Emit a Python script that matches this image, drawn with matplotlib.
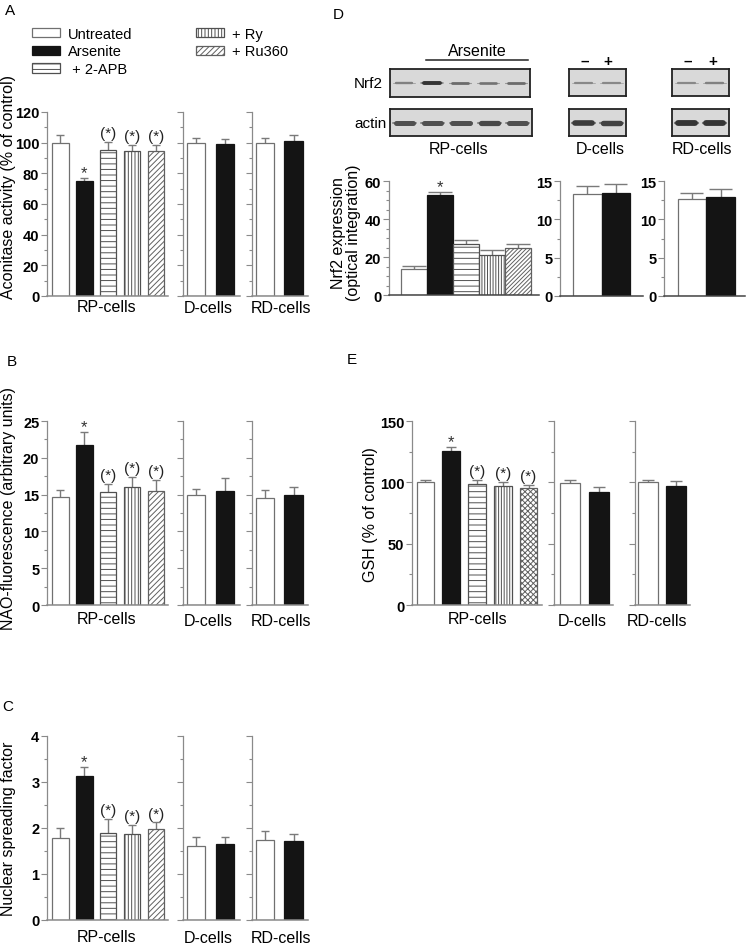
import numpy as np
import matplotlib
matplotlib.use("Agg")
import matplotlib.pyplot as plt
from matplotlib.patches import Patch
from matplotlib.lines import Line2D
from matplotlib.ticker import MultipleLocator

plt.rcParams['font.family'] = ['Liberation Sans', 'DejaVu Sans']
plt.rcParams['hatch.linewidth'] = 0.7

W, H = 750, 945

groups = ['Untreated', 'Arsenite', ' + 2-APB', '+ Ry', '+ Ru360']
cells = ['RP-cells', 'D-cells', 'RD-cells']

# A - aconitase activity (% of control)
acon_rp = [100, 75, 95.5, 94.5, 94.5]
acon_rp_err = [5, 2, 5, 4, 4]
acon_d = [100, 99]
acon_d_err = [3, 3.5]
acon_rd = [100, 101]
acon_rd_err = [3, 4]

# B - NAO fluorescence
nao_rp = [14.7, 21.7, 15.4, 16.1, 15.5]
nao_rp_err = [0.9, 1.8, 1.05, 1.3, 1.5]
nao_d = [15.0, 15.5]
nao_d_err = [0.7, 1.7]
nao_rd = [14.5, 14.95]
nao_rd_err = [1.1, 1.15]

# C - nuclear spreading factor
nsf_rp = [1.78, 3.13, 1.9, 1.87, 1.97]
nsf_rp_err = [0.22, 0.19, 0.3, 0.19, 0.15]
nsf_d = [1.61, 1.65]
nsf_d_err = [0.2, 0.16]
nsf_rd = [1.75, 1.72]
nsf_rd_err = [0.19, 0.15]

# D - Nrf2 expression
nrf_rp = [13.6, 52.5, 27.1, 21.2, 25.0]
nrf_rp_err = [1.5, 1.9, 1.9, 2.3, 1.6]
nrf_d = [13.3, 13.5]
nrf_d_err = [1.0, 1.15]
nrf_rd = [12.7, 12.9]
nrf_rd_err = [0.8, 1.0]

# E - GSH (% of control)
gsh_rp = [100, 125.4, 98.6, 96.7, 95.3]
gsh_rp_err = [2, 3.3, 3.4, 3.3, 2.7]
gsh_d = [99.5, 92]
gsh_d_err = [2, 4.5]
gsh_rd = [100, 97]
gsh_rd_err = [2, 4]

marks_full = ['', '*', '(*)', '(*)', '(*)']
marks_nrf = ['', '*', '', '', '']

# western blot band strength (0..1)
blot_nrf2_rp = [0.35, 0.9, 0.5, 0.45, 0.5]
blot_actin_rp = [0.7, 0.7, 0.7, 0.75, 0.7]
blot_nrf2_d = [0.3, 0.3]
blot_actin_d = [0.85, 0.8]
blot_nrf2_rd = [0.3, 0.35]
blot_actin_rd = [0.9, 0.9]

GRAY = '#8a8a8a'
ERR = '#7a7a7a'
FACES = ['white', '#141414', 'white', 'white', 'white']
EDGES = ['#707070', '#141414', '#505050', '#505050', '#606060']
HATCH = [None, None, '---', '|||||', '//////']
HATCH_D = [None, None, '---', '||||||', '////////']
HATCH_E = [None, None, '---', '||||||', 'xxxxxx']

fig = plt.figure(figsize=(W / 100, H / 100), dpi=100)


def px_axes(x0, y0, x1, y1):
    return fig.add_axes([x0 / W, 1 - y1 / H, (x1 - x0) / W, (y1 - y0) / H])


def ftext(x, y, s, **kw):
    kw.setdefault('ha', 'center')
    kw.setdefault('va', 'center')
    return fig.text(x / W, 1 - y / H, s, **kw)


def style_axes(ax, ymax, major, minor, xlim, labels=True, bottom_col=GRAY):
    ax.set_ylim(0, ymax)
    ax.set_xlim(*xlim)
    ax.yaxis.set_major_locator(MultipleLocator(major))
    ax.yaxis.set_minor_locator(MultipleLocator(minor))
    ax.set_xticks([])
    ax.spines['top'].set_visible(False)
    ax.spines['right'].set_visible(False)
    ax.spines['left'].set_color(GRAY)
    ax.spines['bottom'].set_color(bottom_col)
    ax.spines['left'].set_linewidth(0.9)
    ax.spines['bottom'].set_linewidth(1.1)
    ax.tick_params(axis='y', which='major', length=4, width=0.8, color=GRAY,
                   labelsize=10.5, pad=1.5, labelleft=labels)
    ax.tick_params(axis='y', which='minor', length=2.5, width=0.8, color=GRAY)
    for t in ax.get_yticklabels():
        t.set_fontweight('bold')
    ax.patch.set_alpha(0)


def draw_bars(ax, vals, errs, width, cap, marks=None, hatches=HATCH):
    x = np.arange(len(vals))
    vals = np.asarray(vals, dtype=float)
    top = vals + np.asarray(errs, dtype=float)
    ax.vlines(x, vals, top, color=ERR, lw=1.0, zorder=1)
    ax.hlines(top, x - cap, x + cap, color=ERR, lw=1.0, zorder=1)
    for i, v in zip(x, vals):
        ax.bar(i, v, width, color=FACES[i], edgecolor=EDGES[i], hatch=hatches[i],
               lw=0.9, zorder=2)
    if marks:
        for i, t, m in zip(x, top, marks):
            if m == '*':
                ax.annotate(m, (i, t), xytext=(0, 0.5), textcoords='offset points',
                            ha='center', va='baseline', fontsize=12, color='#333')
            elif m:
                ax.annotate(m, (i, t), xytext=(0, 3.5), textcoords='offset points',
                            ha='center', va='baseline', fontsize=11, color='#222')


def draw_blot(x0, y0, x1, y1, bands, thick):
    ax = px_axes(x0, y0, x1, y1)
    ax.set_xlim(0, len(bands))
    ax.set_ylim(0, 1)
    ax.set_facecolor('#d9d9d9')
    ax.set_xticks([])
    ax.set_yticks([])
    for s in ax.spines.values():
        s.set_linewidth(1.3)
        s.set_color('#222')
    for i, b in enumerate(bands):
        g = 0.7 - 0.55 * b
        ax.plot([i + 0.1, i + 0.9], [0.5, 0.5], color=str(g), lw=thick * 0.4 * (0.5 + b),
                alpha=0.6, solid_capstyle='round')
        ax.plot([i + 0.2, i + 0.8], [0.5, 0.5], color=str(g), lw=thick * (0.5 + b),
                solid_capstyle='round')
    return ax


# ---------- left column: A, B, C ----------
rows = [
    (113, 297, acon_rp, acon_rp_err, acon_d, acon_d_err, acon_rd, acon_rd_err,
     120, 20, 10, 'Aconitase activity (% of control)', 187, 308),
    (422, 606, nao_rp, nao_rp_err, nao_d, nao_d_err, nao_rd, nao_rd_err,
     25, 5, 2.5, 'NAO-fluorescence (arbitrary units)', 509, 620),
    (737, 921, nsf_rp, nsf_rp_err, nsf_d, nsf_d_err, nsf_rd, nsf_rd_err,
     4, 1, 0.5, 'Nuclear spreading factor', 829, 938),
]
for (yt, yb, rp, rpe, dd, dde, rd, rde, ymax, maj, mnr, ylab, ylab_y, lab_y) in rows:
    ax = px_axes(47, yt, 168, yb)
    draw_bars(ax, rp, rpe, 0.7, 0.17, marks_full)
    style_axes(ax, ymax, maj, mnr, (-0.55, 4.5))
    ax = px_axes(183, yt, 240, yb)
    draw_bars(ax, dd, dde, 0.64, 0.15)
    style_axes(ax, ymax, maj, mnr, (-0.45, 1.52), labels=False)
    ax = px_axes(252, yt, 308, yb)
    draw_bars(ax, rd, rde, 0.64, 0.15)
    style_axes(ax, ymax, maj, mnr, (-0.45, 1.5), labels=False)
    ftext(9, ylab_y, ylab, rotation=90, fontsize=11.5)
    ftext(107, lab_y, cells[0], fontsize=11.5)
    ftext(208, lab_y + 1, cells[1], fontsize=11.5)
    ftext(281, lab_y + 1, cells[2], fontsize=11.5)

ftext(10, 11, 'A', fontsize=11)
ftext(12, 362, 'B', fontsize=11)
ftext(8, 707, 'C', fontsize=11)

handles = [Patch(facecolor=FACES[i], edgecolor=EDGES[i], hatch=HATCH[i], lw=0.9)
           for i in range(len(groups))]
fig.legend(handles, groups, ncol=2, loc='upper left', bbox_to_anchor=(26 / W, 1 - 22 / H),
           frameon=False, fontsize=10.5, handlelength=1.9, handleheight=0.6,
           columnspacing=4.4, labelspacing=0.25, handletextpad=0.55, borderaxespad=0)

# ---------- D: blots ----------
draw_blot(390, 70, 530, 98, blot_nrf2_rp, 2.0)
draw_blot(390, 110, 532, 137, blot_actin_rp, 3.0)
draw_blot(569, 70, 626, 97, blot_nrf2_d, 2.0)
draw_blot(569, 110, 626, 137, blot_actin_d, 3.0)
draw_blot(672, 70, 729, 97, blot_nrf2_rd, 2.0)
draw_blot(672, 110, 729, 137, blot_actin_rd, 3.0)

ftext(354, 84, 'Nrf2', ha='left', fontsize=11)
ftext(354, 124, 'actin', ha='left', fontsize=11)
ftext(477, 51, 'Arsenite', fontsize=11.5)
fig.add_artist(Line2D([426 / W, 528 / W], [1 - 61 / H, 1 - 61 / H], color='#222', lw=1.1))
for xm, s in [(585, '\u2013'), (608, '+'), (688, '\u2013'), (713, '+')]:
    ftext(xm, 62, s, fontsize=11, fontweight='bold')
ftext(459, 150, cells[0], fontsize=11.5)
ftext(600, 150, cells[1], fontsize=11.5)
ftext(702, 150, cells[2], fontsize=11.5)
ftext(338, 15, 'D', fontsize=11)

# ---------- D: Nrf2 bars ----------
ax = px_axes(389, 182, 539, 296)
draw_bars(ax, nrf_rp, nrf_rp_err, 1.0, 0.45, marks_nrf, hatches=HATCH_D)
style_axes(ax, 60, 20, 5, (-0.96, 4.8), bottom_col='#444')
ax = px_axes(560, 182, 643, 297)
draw_bars(ax, nrf_d, nrf_d_err, 1.0, 0.4)
style_axes(ax, 15, 5, 2.5, (-0.96, 1.95), bottom_col='#444')
ax = px_axes(664, 182, 745, 297)
draw_bars(ax, nrf_rd, nrf_rd_err, 1.0, 0.4)
style_axes(ax, 15, 5, 2.5, (-0.97, 1.85), bottom_col='#444')
ftext(346, 233, 'Nrf2 expression\n(optical integration)', rotation=90, fontsize=11.5,
      linespacing=1.0)

# ---------- E: GSH ----------
ax = px_axes(412, 422, 542, 606)
draw_bars(ax, gsh_rp, gsh_rp_err, 0.68, 0.2, marks_full, hatches=HATCH_E)
style_axes(ax, 150, 50, 25, (-0.52, 4.52))
ax = px_axes(554, 422, 613, 606)
draw_bars(ax, gsh_d, gsh_d_err, 0.69, 0.2)
style_axes(ax, 150, 50, 25, (-0.55, 1.48), labels=False)
ax = px_axes(635, 422, 690, 606)
draw_bars(ax, gsh_rd, gsh_rd_err, 0.69, 0.2)
style_axes(ax, 150, 50, 25, (-0.46, 1.5), labels=False)
ftext(370, 515, 'GSH (% of control)', rotation=90, fontsize=11.5)
ftext(478, 620, cells[0], fontsize=11.5)
ftext(582, 621, cells[1], fontsize=11.5)
ftext(657, 621, cells[2], fontsize=11.5)
ftext(352, 360, 'E', fontsize=11)

fig.savefig('out.png', dpi=100)
